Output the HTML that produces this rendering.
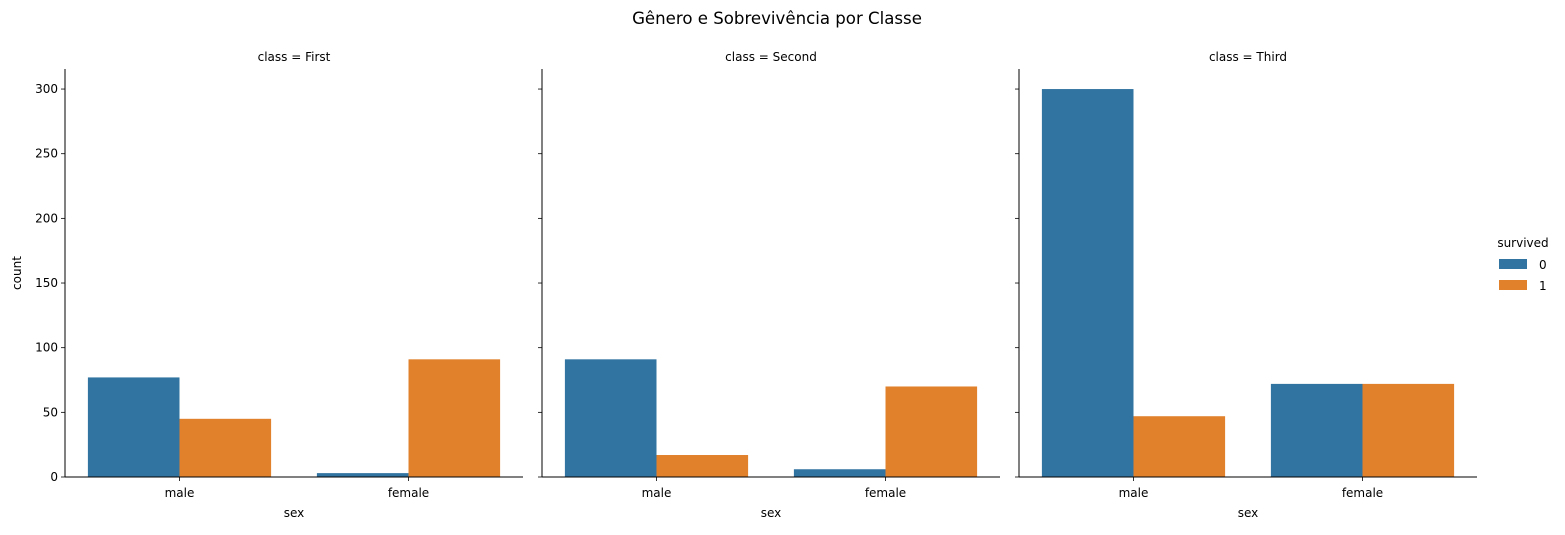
<!DOCTYPE html>
<html><head><meta charset="utf-8"><style>
body{margin:0;background:#fff;font-family:"Liberation Sans","DejaVu Sans",sans-serif;}
svg text{font-family:"DejaVu Sans","Liberation Sans",sans-serif;fill:#000;}
</style></head><body>
<svg id="chart" width="1565" height="530"></svg>
<script>
const classes=["First","Second","Third"];
const sexes=["male","female"];
const survived0=[[77,3],[91,6],[300,72]];
const survived1=[[45,91],[17,70],[47,72]];
const yTicks=[0,50,100,150,200,250,300];
const colors=["#3274a1","#e1812c"];
const svg=document.getElementById('chart');
const NS="http://www.w3.org/2000/svg";
function mk(t,a,txt){const e=document.createElementNS(NS,t);for(const k in a)e.setAttribute(k,a[k]);if(txt!==undefined)e.textContent=txt;return e;}
const panelX=[65,542,1019],pw=458,y0=477,yTop=69,yMax=315.5;
function ys(v){return y0-(v/yMax)*(y0-yTop);}
function xs(p,c){return panelX[p]+(c+0.5)/2*pw;}
const t=mk('text',{x:777,y:24,'font-size':16.6,'text-anchor':'middle'},'Gênero e Sobrevivência por Classe');
svg.appendChild(t);
classes.forEach((cl,p)=>{
  const g=mk('g',{});
  
  
  svg.appendChild(g);
  const bw=0.4*pw/2;
  sexes.forEach((s,c)=>{
    [survived0,survived1].forEach((ser,k)=>{
      const v=ser[p][c];const x=xs(p,c)-bw+k*bw;
      const r=mk('rect',{x:x,y:ys(v),width:bw,height:y0-ys(v),fill:colors[k]});
      
      
      g.appendChild(r);
    });
    g.appendChild(mk('line',{x1:xs(p,c),x2:xs(p,c),y1:y0,y2:y0+4,stroke:'#000','stroke-width':0.8}));
    const tl=mk('text',{x:xs(p,c),y:y0+20,'font-size':12,'text-anchor':'middle'},s);
    g.appendChild(tl);
  });
  g.appendChild(mk('line',{x1:panelX[p],x2:panelX[p],y1:yTop,y2:y0,stroke:'#000','stroke-width':1}));
  g.appendChild(mk('line',{x1:panelX[p],x2:panelX[p]+pw,y1:y0,y2:y0,stroke:'#000','stroke-width':1}));
  yTicks.forEach(v=>{
    g.appendChild(mk('line',{x1:panelX[p]-4,x2:panelX[p],y1:ys(v),y2:ys(v),stroke:'#000','stroke-width':0.8}));
    if(p===0){const l=mk('text',{x:panelX[p]-7,y:ys(v)+4,'font-size':12,'text-anchor':'end'},v);
      g.appendChild(l);}
  });
  const st=mk('text',{x:panelX[p]+pw/2,y:61,'font-size':12,'text-anchor':'middle'},'class = '+cl);
  g.appendChild(st);
  const xl=mk('text',{x:panelX[p]+pw/2,y:517,'font-size':12,'text-anchor':'middle'},'sex');
  g.appendChild(xl);
});
const yl=mk('text',{x:21,y:273,'font-size':12,'text-anchor':'middle',transform:'rotate(-90 21 273)'},'count');
svg.appendChild(yl);
const lg=mk('g',{});svg.appendChild(lg);
lg.appendChild(mk('text',{x:1523,y:247,'font-size':12,'text-anchor':'middle'},'survived'));
["0","1"].forEach((s,k)=>{
  const e=mk('g',{});lg.appendChild(e);
  e.appendChild(mk('rect',{x:1499,y:259+k*21,width:28,height:10,fill:colors[k]}));
  e.appendChild(mk('text',{x:1539,y:269+k*21,'font-size':12},s));
});
</script>
</body></html>
